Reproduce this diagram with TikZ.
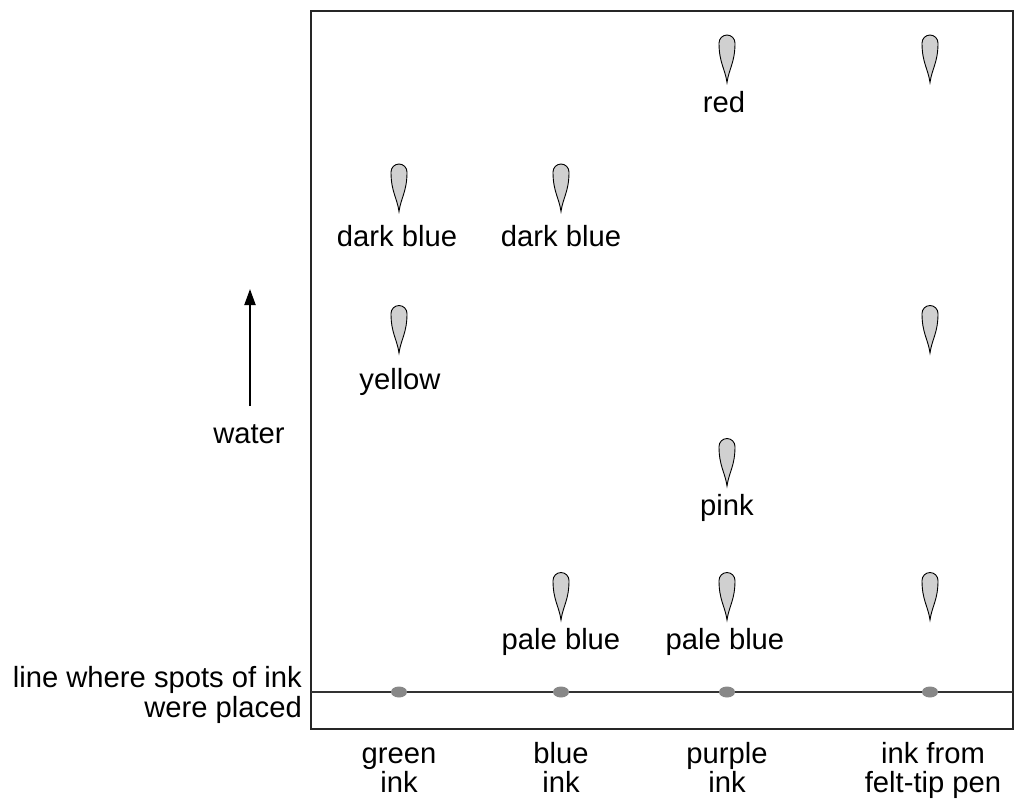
\documentclass[tikz,border=0pt]{standalone}
\usepackage{fontspec}
\setmainfont{Liberation Sans}
\usetikzlibrary{arrows.meta,shapes.geometric}
\definecolor{dropfill}{HTML}{D0D0D0}
\definecolor{spotfill}{HTML}{888888}
\tikzset{
  lbl/.style={anchor=base, inner sep=0pt, font=\fontsize{29.2pt}{30pt}\selectfont},
  rlbl/.style={lbl, anchor=base east},
  dropshape/.style={draw=black, line width=0.9pt, fill=dropfill},
  drop/.pic={
    \draw[dropshape] (0,24) .. controls (2,10) and (8,4) .. (8,-15.5)
      arc[start angle=0, end angle=-180, radius=8]
      .. controls (-8,4) and (-2,10) .. (0,24) -- cycle;
  },
  spot/.style={ellipse, fill=spotfill, minimum width=16pt, minimum height=11pt, inner sep=0pt},
  frame/.style={draw=black!85, line width=2.6pt},
  startline/.style={draw=black!80, line width=1.2pt}
}
\begin{document}
\begin{tikzpicture}[x=1pt, y=-1pt]
\useasboundingbox (0,0) rectangle (1015,801);
% frame
\draw[frame] (311,11) rectangle (1013,729);
% start line
\coordinate (lineL) at (311,692);
\coordinate (lineR) at (1013,692);
\draw[startline] (lineL) -- (lineR);
% spots
\node[spot] (s1) at (399,692) {};
\node[spot] (s2) at (561,692) {};
\node[spot] (s3) at (727,692) {};
\node[spot] (s4) at (930,692) {};
% drops
\pic at (727,58.5) {drop};
\pic at (930,58.5) {drop};
\pic at (399,187.5) {drop};
\pic at (561,187.5) {drop};
\pic at (399,329) {drop};
\pic at (930,329) {drop};
\pic at (727,462) {drop};
\pic at (561,596) {drop};
\pic at (727,596) {drop};
\pic at (930,596) {drop};
% drop labels
\node[lbl] (red) at (724,112) {red};
\node[lbl] (db1) at (397,246) {dark blue};
\node[lbl] (db2) at (561,246) {dark blue};
\node[lbl] (yel) at (400,389) {yellow};
\node[lbl] (pink) at (727,515) {pink};
\node[lbl] (pb2) at (561,649) {pale blue};
\node[lbl] (pb3) at (725,649) {pale blue};
% water arrow
\coordinate (wbot) at (250,406);
\coordinate (wtop) at (250,289);
\draw[line width=2pt, -{Triangle[length=16pt, width=11pt]}] (wbot) -- (wtop);
\node[lbl] (water) at (249,443) {water};
% left label
\node[rlbl] (ll1) at (302,687) {line where spots of ink};
\node[rlbl] (ll2) at (302,717) {were placed};
% bottom labels
\node[lbl] (g1) at (399,763) {green};
\node[lbl] (g2) at (399,792) {ink};
\node[lbl] (b1) at (561,763) {blue};
\node[lbl] (b2) at (561,792) {ink};
\node[lbl] (p1) at (727,763) {purple};
\node[lbl] (p2) at (727,792) {ink};
\node[lbl] (f1) at (933,763) {ink from};
\node[lbl] (f2) at (933,792) {felt-tip pen};
\end{tikzpicture}
\end{document}
